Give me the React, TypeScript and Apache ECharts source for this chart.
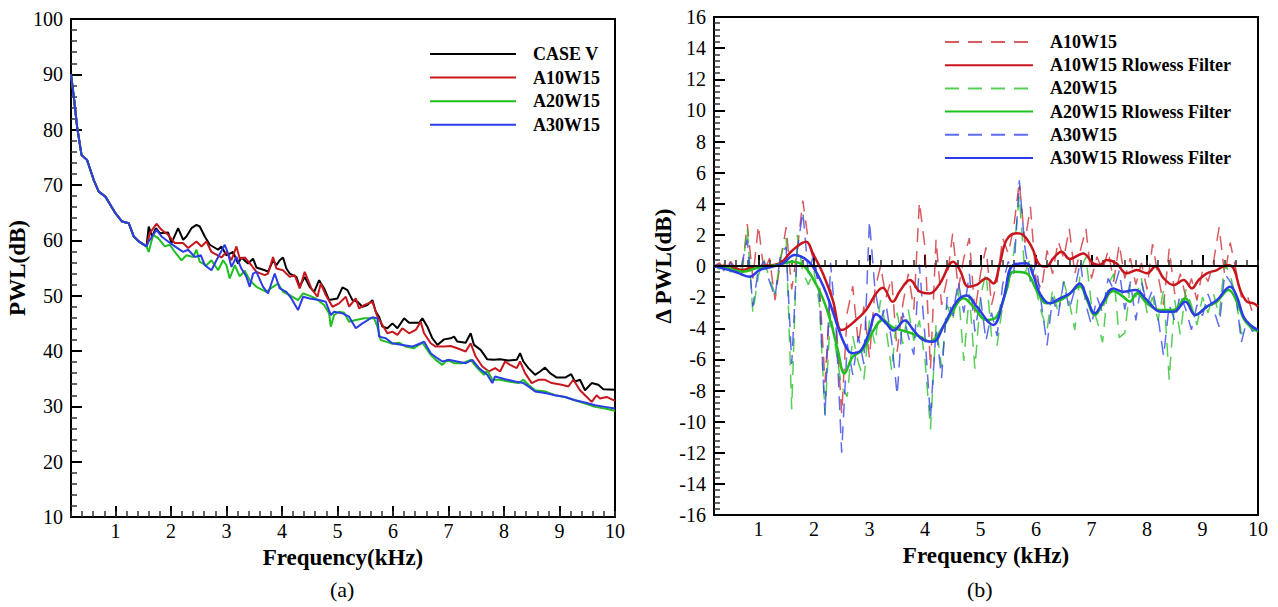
import React, { useEffect, useRef } from "react";
import * as echarts from "echarts";

// ---------- Panel (a): PWL spectra ----------
const COMMON_LOW: number[][] = [
  [0.2, 90], [0.25, 86], [0.31, 80.5], [0.39, 75.4], [0.49, 74.5], [0.61, 70.9], [0.7, 68.8],
  [0.82, 67.9], [1.0, 64.9], [1.12, 63.4], [1.24, 63.1], [1.33, 60.7], [1.42, 59.8], [1.56, 58.9],
];

const CASE_V_TAIL: number[][] = [
  [1.6, 62.5], [1.66, 60.7], [1.73, 62.2], [1.8, 61.3], [1.95, 61.4], [2.01, 59.5], [2.13, 62.2], [2.22, 60.1],
  [2.28, 60.7], [2.37, 62.2], [2.46, 62.8], [2.52, 62.5], [2.61, 60.7], [2.7, 59.2], [2.85, 58.3], [2.91, 58.9],
  [3.0, 57.3], [3.12, 57.9], [3.21, 55.8], [3.27, 56.9], [3.39, 55.8], [3.48, 56.7], [3.54, 55.1], [3.69, 54.6],
  [3.75, 54.3], [3.84, 56.4], [3.9, 55.5], [3.96, 56.4], [4.02, 56.9], [4.08, 54.9], [4.14, 54.0], [4.26, 53.4],
  [4.32, 51.6], [4.41, 53.4], [4.5, 51.6], [4.58, 50.7], [4.67, 52.8], [4.76, 51.3], [4.85, 49.2], [5.0, 49.5],
  [5.09, 51.5], [5.18, 51.0], [5.27, 49.2], [5.36, 48.9], [5.45, 48.0], [5.54, 48.3], [5.63, 49.2], [5.69, 47.1],
  [5.75, 46.2], [5.81, 44.4], [5.9, 44.1], [5.99, 45.0], [6.08, 44.1], [6.2, 45.9], [6.29, 45.1], [6.47, 45.1],
  [6.53, 45.9], [6.62, 44.4], [6.71, 42.3], [6.8, 41.1], [6.92, 42.1], [7.04, 42.3], [7.1, 42.6], [7.16, 41.7],
  [7.31, 41.5], [7.4, 43.2], [7.46, 41.1], [7.58, 40.2], [7.7, 38.5], [7.81, 38.4], [7.93, 38.5], [8.08, 38.3],
  [8.23, 38.4], [8.29, 39.6], [8.35, 38.1], [8.44, 36.9], [8.56, 35.7], [8.65, 36.3], [8.74, 37.0], [8.83, 36.0],
  [8.95, 35.2], [9.1, 35.2], [9.21, 35.8], [9.28, 34.5], [9.37, 34.8], [9.46, 32.9], [9.58, 34.2], [9.7, 33.9],
  [9.79, 33.1], [10.0, 33.0],
];

const A10W15_TAIL: number[][] = [
  [1.62, 61.3], [1.74, 63.0], [1.83, 61.9], [1.95, 61.0], [2.07, 59.5], [2.22, 59.5], [2.31, 58.6], [2.46, 59.8],
  [2.55, 58.9], [2.64, 59.8], [2.73, 57.9], [2.91, 56.9], [3.0, 57.9], [3.09, 56.4], [3.18, 58.9], [3.24, 56.7],
  [3.33, 56.9], [3.45, 55.5], [3.54, 54.3], [3.69, 53.7], [3.75, 54.0], [3.84, 57.0], [3.9, 54.9], [4.02, 54.6],
  [4.14, 53.4], [4.23, 53.7], [4.32, 51.3], [4.41, 54.3], [4.53, 51.3], [4.64, 49.8], [4.7, 52.2], [4.79, 50.1],
  [4.91, 48.0], [5.03, 48.6], [5.15, 49.8], [5.21, 48.0], [5.33, 49.5], [5.39, 47.7], [5.48, 48.3], [5.63, 48.9],
  [5.72, 46.2], [5.81, 44.7], [5.9, 43.2], [5.99, 43.5], [6.08, 42.9], [6.17, 44.1], [6.29, 43.2], [6.41, 43.8],
  [6.5, 45.3], [6.56, 43.2], [6.68, 41.4], [6.77, 40.8], [6.92, 40.8], [7.04, 40.9], [7.16, 40.5], [7.31, 39.9],
  [7.4, 41.4], [7.49, 39.0], [7.61, 37.2], [7.73, 36.3], [7.84, 36.9], [7.93, 36.3], [8.02, 38.1], [8.11, 37.5],
  [8.23, 36.9], [8.29, 38.1], [8.38, 36.0], [8.5, 34.2], [8.62, 34.8], [8.74, 34.8], [8.86, 34.2], [9.04, 33.9],
  [9.16, 33.6], [9.25, 34.8], [9.37, 32.9], [9.46, 32.0], [9.58, 30.8], [9.67, 32.0], [9.73, 31.4], [9.85, 31.7],
  [10.0, 31.0],
];

const A20W15_TAIL: number[][] = [
  [1.6, 57.9], [1.68, 61.0], [1.77, 60.4], [1.89, 58.9], [1.98, 59.2], [2.07, 57.9], [2.19, 56.4], [2.28, 57.3],
  [2.4, 57.0], [2.46, 58.3], [2.52, 56.1], [2.64, 55.5], [2.73, 56.4], [2.85, 54.6], [2.94, 56.4], [3.0, 55.5],
  [3.06, 53.1], [3.15, 55.5], [3.24, 53.5], [3.33, 54.5], [3.42, 52.8], [3.54, 51.6], [3.72, 50.7], [3.84, 51.6],
  [3.93, 52.2], [4.02, 50.7], [4.14, 50.1], [4.29, 49.2], [4.38, 50.4], [4.47, 50.1], [4.61, 49.5], [4.76, 48.3],
  [4.85, 46.8], [4.88, 44.4], [4.94, 46.5], [5.03, 47.1], [5.12, 46.9], [5.21, 45.3], [5.33, 45.6], [5.48, 45.9],
  [5.66, 45.9], [5.72, 44.4], [5.78, 42.0], [5.87, 41.7], [5.99, 41.3], [6.11, 41.5], [6.23, 40.8], [6.38, 40.5],
  [6.53, 41.5], [6.68, 39.3], [6.77, 38.4], [6.89, 37.5], [6.98, 38.4], [7.1, 37.8], [7.25, 37.8], [7.4, 38.4],
  [7.52, 36.9], [7.64, 35.7], [7.7, 36.5], [7.79, 34.8], [7.93, 34.8], [8.08, 34.5], [8.26, 34.2], [8.35, 34.8],
  [8.44, 33.9], [8.56, 32.9], [8.74, 32.7], [8.92, 32.0], [9.1, 31.7], [9.28, 31.1], [9.46, 30.5], [9.64, 29.9],
  [9.82, 29.6], [10.0, 29.2],
];

const A30W15_TAIL: number[][] = [
  [1.6, 59.8], [1.74, 61.9], [1.83, 60.7], [1.95, 59.8], [2.07, 58.9], [2.22, 57.9], [2.31, 58.3], [2.43, 57.0],
  [2.54, 57.3], [2.61, 55.5], [2.73, 54.6], [2.82, 56.4], [2.97, 59.2], [3.03, 57.6], [3.09, 55.2], [3.18, 57.0],
  [3.27, 54.9], [3.36, 53.4], [3.42, 51.6], [3.48, 54.0], [3.54, 54.3], [3.66, 51.6], [3.75, 50.4], [3.87, 54.0],
  [3.96, 51.3], [4.08, 50.7], [4.17, 49.5], [4.29, 47.4], [4.38, 49.8], [4.5, 49.5], [4.67, 49.2], [4.79, 48.9],
  [4.88, 46.5], [4.94, 47.1], [5.09, 46.8], [5.21, 46.2], [5.33, 44.1], [5.45, 45.0], [5.63, 46.1], [5.72, 45.9],
  [5.75, 42.6], [5.87, 42.3], [5.99, 41.4], [6.17, 41.1], [6.35, 40.8], [6.5, 41.4], [6.56, 41.7], [6.68, 39.6],
  [6.8, 38.7], [6.89, 38.1], [7.0, 38.4], [7.31, 37.8], [7.43, 38.4], [7.55, 36.9], [7.7, 35.7], [7.79, 34.2],
  [7.84, 35.4], [8.02, 34.9], [8.2, 34.5], [8.35, 34.2], [8.44, 33.6], [8.56, 32.7], [8.74, 32.4], [8.92, 32.0],
  [9.1, 31.7], [9.28, 31.1], [9.46, 30.7], [9.64, 30.2], [9.82, 29.9], [10.0, 29.6],
];

// ---------- Panel (b): delta PWL ----------
const FREQ_GRID: number[] = [
  0.2, 0.3, 0.4, 0.5, 0.6, 0.7, 0.8, 0.9, 1.0, 1.1, 1.2, 1.3, 1.4, 1.5, 1.6, 1.7, 1.8, 1.9, 2.0,
  2.1, 2.2, 2.3, 2.4, 2.5, 2.6, 2.7, 2.8, 2.9, 3.0, 3.1, 3.2, 3.3, 3.4, 3.5, 3.6, 3.7, 3.8, 3.9, 4.0,
  4.1, 4.2, 4.3, 4.4, 4.5, 4.6, 4.7, 4.8, 4.9, 5.0, 5.1, 5.2, 5.3, 5.4, 5.5, 5.6, 5.7, 5.8, 5.9, 6.0,
  6.1, 6.2, 6.3, 6.4, 6.5, 6.6, 6.7, 6.8, 6.9, 7.0, 7.1, 7.2, 7.3, 7.4, 7.5, 7.6, 7.7, 7.8, 7.9, 8.0,
  8.1, 8.2, 8.3, 8.4, 8.5, 8.6, 8.7, 8.8, 8.9, 9.0, 9.1, 9.2, 9.3, 9.4, 9.5, 9.6, 9.7, 9.8, 9.9, 10.0,
];

const A10W15_RAW: number[] = [
  0.0, 0.2, -0.3, 0.3, -0.2, -0.5, 2.7, -0.8, 2.6, -0.4, 0.5, -2.2, 0.4, 2.5, -1.5, 1.0, 4.2, 1.6, 0.3,
  -1.2, -7.5, -1.5, -3.5, -9.5, -3.0, -1.3, -5.0, -2.6, -5.9, -1.5, 0.0, -2.0, -0.8, -5.5, -2.5, -0.5, -2.8, 4.1, 1.2,
  -6.6, 1.7, -2.5, -0.8, 2.1, -1.5, 0.5, 1.8, -3.0, -0.5, 1.2, -2.5, -1.0, 1.8, 0.8, 2.5, 5.4, 1.5, 3.8, -0.8,
  -1.5, 1.0, -0.5, 1.6, 0.5, 2.4, -0.5, 1.0, 2.4, -0.8, 0.6, -0.3, 1.0, -1.0, 1.4, -0.8, 0.5, -1.2, 0.2, -1.5,
  1.4, -0.6, -2.5, 1.1, -1.8, -0.5, -2.0, -0.8, -2.2, -0.3, -1.0, 0.3, 2.5, -0.6, 1.5, -0.2, -2.0, -1.8, -3.0, -2.5,
];

const A20W15_RAW: number[] = [
  0.0, -0.2, 0.2, -0.4, 0.0, -0.6, 2.4, -3.0, -0.6, 0.4, -0.8, -1.8, 0.6, 1.8, -9.2, 2.0, -0.4, -1.2, -0.3,
  -2.5, -9.5, -3.0, -5.5, -7.8, -8.4, -4.5, -6.2, -7.3, -3.5, -5.0, -2.2, -4.0, -6.7, -3.0, -5.0, -2.8, -4.8, -3.5, -6.0,
  -10.5, -3.8, -6.5, -2.5, -3.5, -1.5, -6.1, -1.8, -6.6, -2.0, -0.4, -4.5, -5.1, -2.5, -0.5, 0.8, 4.5, -0.5, 0.5, -1.5,
  -3.0, -4.1, -1.5, -3.0, -1.0, -2.3, -4.1, -0.3, 0.6, -2.5, -3.5, -4.9, -1.2, -0.5, -4.6, -4.3, -1.2, -2.0, -0.8, -3.0,
  -2.0, -3.5, -1.5, -7.3, -2.2, -4.4, -1.5, -2.5, -3.8, -2.0, -3.0, -1.8, -3.2, 0.2, -0.6, -2.0, -4.4, -3.6, -4.0, -4.2,
];

const A30W15_RAW: number[] = [
  0.0, 0.1, -0.4, 0.2, -0.5, 0.1, 1.7, -2.6, -0.2, 0.3, -1.0, -2.0, 0.8, 1.2, -6.3, 1.0, 3.5, -0.5, 0.8,
  -2.0, -9.6, 0.2, -4.0, -12.0, -5.0, -7.0, -4.5, -6.3, 2.9, -1.5, -3.5, -2.5, -4.8, -8.3, -3.0, -4.5, -5.7, 0.1, -4.5,
  -9.8, -4.0, -7.2, -2.0, -3.2, -1.0, -3.0, -0.5, -4.2, -2.0, -4.8, -3.0, -4.5, -1.2, 0.3, -0.5, 5.5, 1.2, -1.0, 0.2,
  -2.5, -5.1, -2.0, -3.2, -1.0, -2.8, -1.5, 0.3, -2.5, -3.8, -2.0, -3.0, -0.8, -1.5, -0.3, -2.8, -1.0, -3.5, -1.0, -2.5,
  -1.5, -3.3, -5.8, -2.5, -3.5, -1.8, -2.8, -4.1, -2.5, -3.2, -1.8, -2.8, -3.9, -0.5, -1.0, -1.8, -4.9, -3.5, -4.2, -4.0,
];

const A10W15_FILTER: number[][] = [
  [0.2, 0.0], [0.45, 0.0], [0.72, -0.26], [0.9, -0.05], [1.08, 0.0], [1.38, 0.17], [1.62, 1.03], [1.86, 1.56],
  [1.98, 0.81], [2.16, -0.47], [2.34, -2.19], [2.49, -4.11], [2.58, -4.0], [2.76, -3.47], [2.94, -2.83],
  [3.12, -1.76], [3.24, -1.4], [3.42, -2.3], [3.55, -1.6], [3.73, -0.9], [3.91, -1.65], [4.09, -1.76],
  [4.27, -1.12], [4.51, 0.28], [4.63, -0.26], [4.78, -1.33], [4.93, -1.22], [5.11, -0.79], [5.23, -1.12],
  [5.35, 0.17], [5.47, 1.67], [5.65, 2.1], [5.77, 1.99], [5.92, 1.24], [6.07, 0.06], [6.19, -0.04], [6.31, 0.49],
  [6.46, 0.92], [6.61, 0.45], [6.85, 0.81], [7.03, 0.17], [7.15, 0.06], [7.27, 0.38], [7.45, 0.17], [7.63, -0.47],
  [7.82, -0.26], [8.0, -0.47], [8.15, -0.04], [8.3, -0.79], [8.48, -1.22], [8.66, -0.9], [8.81, -1.44],
  [8.93, -0.9], [9.08, -0.47], [9.26, -0.26], [9.44, 0.06], [9.56, -0.15], [9.68, -1.54], [9.8, -2.29],
  [9.92, -2.4], [10.0, -2.6],
];

const A20W15_FILTER: number[][] = [
  [0.2, 0.0], [0.36, -0.04], [0.72, -0.37], [0.96, -0.15], [1.38, 0.1], [1.62, 0.28], [1.8, 0.06], [1.98, -0.79],
  [2.16, -2.08], [2.31, -3.68], [2.43, -5.4], [2.55, -6.9], [2.7, -5.83], [2.88, -5.4], [3.06, -4.22],
  [3.24, -3.47], [3.42, -3.95], [3.67, -4.22], [3.91, -4.54], [4.09, -4.86], [4.33, -3.9], [4.51, -2.83],
  [4.69, -2.08], [4.87, -2.61], [5.11, -3.47], [5.29, -3.26], [5.47, -1.54], [5.59, -0.37], [5.83, -0.47],
  [6.01, -1.54], [6.19, -2.4], [6.37, -2.29], [6.55, -1.97], [6.79, -1.3], [6.91, -2.1], [7.06, -3.15],
  [7.21, -2.4], [7.39, -1.6], [7.57, -1.97], [7.69, -2.29], [7.82, -1.75], [8.0, -2.4], [8.24, -2.83],
  [8.48, -2.83], [8.69, -2.08], [8.87, -3.15], [9.08, -2.61], [9.26, -2.29], [9.47, -1.54], [9.62, -2.29],
  [9.74, -3.36], [9.86, -3.9], [10.0, -4.22],
];

const A30W15_FILTER: number[][] = [
  [0.2, 0.0], [0.36, -0.15], [0.6, -0.4], [0.84, -0.69], [1.02, -0.26], [1.26, -0.04], [1.44, 0.17], [1.65, 0.7],
  [1.83, 0.49], [1.98, -0.04], [2.16, -1.22], [2.31, -2.61], [2.46, -4.22], [2.61, -5.4], [2.7, -5.6],
  [2.85, -5.4], [3.0, -4.22], [3.12, -3.1], [3.3, -3.68], [3.43, -4.15], [3.64, -3.5], [3.79, -4.1],
  [3.97, -4.75], [4.15, -4.86], [4.33, -3.9], [4.57, -2.29], [4.75, -1.9], [4.93, -2.6], [5.23, -3.79],
  [5.41, -2.19], [5.59, 0.06], [5.83, 0.17], [5.95, -0.58], [6.07, -1.76], [6.25, -2.4], [6.43, -2.08],
  [6.61, -1.76], [6.79, -1.12], [6.91, -1.97], [7.06, -3.04], [7.21, -2.29], [7.39, -1.44], [7.57, -1.65],
  [7.79, -1.54], [8.0, -2.19], [8.24, -2.94], [8.48, -2.94], [8.69, -2.29], [8.87, -3.15], [9.08, -2.61],
  [9.26, -2.19], [9.5, -1.33], [9.62, -1.97], [9.74, -3.26], [9.86, -3.79], [10.0, -4.11],
];

const LEFT_NAMES = ["CASE V", "A10W15", "A20W15", "A30W15"];
const RIGHT_NAMES = [
  "A10W15 (raw)", "A10W15 Rlowess Filter",
  "A20W15 (raw)", "A20W15 Rlowess Filter",
  "A30W15 (raw)", "A30W15 Rlowess Filter",
];

const SERIF = "'Liberation Serif', 'Times New Roman', 'DejaVu Serif', serif";
const BLACK = "#000000";
const RED = "#c8161d";
const GREEN = "#1fbf1f";
const BLUE = "#2b3ce8";

function zip(xs: number[], ys: number[]): number[][] {
  return xs.map((x, i) => [x, ys[i]]);
}

export default function App() {
  const ref = useRef<HTMLDivElement>(null);

  useEffect(() => {
    if (!ref.current) return;
    const chart = echarts.init(ref.current, undefined, { renderer: "svg" });

    const tickLabel = { fontFamily: SERIF, fontSize: 20, color: "#000" };
    const nameStyle = { fontFamily: SERIF, fontSize: 23, fontWeight: "bold" as const, color: "#000" };
    const axisLine = { show: true, lineStyle: { color: "#000", width: 2 } };

    const mainX = (gridIndex: number, name: string) => ({
      type: "value",
      gridIndex,
      min: 0.2,
      max: 10,
      splitNumber: 10,
      name,
      nameLocation: "middle",
      nameGap: 23,
      nameTextStyle: nameStyle,
      axisLine,
      axisTick: { show: true, inside: true, length: 11, lineStyle: { color: "#000", width: 2 } },
      axisLabel: { ...tickLabel, margin: 4, showMinLabel: false },
      splitLine: { show: false },
    });
    const minorX = (gridIndex: number) => ({
      type: "value",
      gridIndex,
      min: 0.2,
      max: 10,
      interval: 0.2,
      axisLine: { show: false },
      axisTick: { show: true, inside: true, length: 6, lineStyle: { color: "#333", width: 1.5 } },
      axisLabel: { show: false },
      splitLine: { show: false },
    });
    const hiddenY = (gridIndex: number, min: number, max: number) => ({
      type: "value", gridIndex, min, max, show: false, splitLine: { show: false },
    });

    const lineSeries = (name: string, data: number[][], color: string, width: number, extra: any = {}) => ({
      type: "line",
      name,
      data,
      showSymbol: false,
      symbol: "none",
      lineStyle: { color, width },
      itemStyle: { color },
      ...extra,
    });

    const legendText = {
      fontFamily: SERIF, fontSize: 18, fontWeight: "bold", color: "#000", padding: [0, 0, 0, 12], lineHeight: 14,
    };

    chart.setOption({
      animation: false,
      backgroundColor: "#ffffff",
      grid: [
        { left: 71, top: 19, width: 544, height: 498, show: true, borderColor: "#000", borderWidth: 2, backgroundColor: "transparent" },
        { left: 714, top: 17, width: 544, height: 498, show: true, borderColor: "#000", borderWidth: 2, backgroundColor: "transparent" },
        { left: 71, top: 19, width: 544, height: 498 },
        { left: 714, top: 17, width: 544, height: 498 },
      ],
      xAxis: [mainX(0, "Frequency(kHz)"), mainX(1, "Frequency (kHz)"), minorX(2), minorX(3)],
      yAxis: [
        {
          type: "value", gridIndex: 0, min: 10, max: 100, interval: 10,
          name: "PWL(dB)", nameLocation: "middle", nameGap: 39, nameRotate: 90, nameTextStyle: nameStyle,
          axisLine,
          axisTick: { show: true, inside: true, length: 11, lineStyle: { color: "#000", width: 2 } },
          minorTick: { show: true, splitNumber: 5, length: 6, lineStyle: { color: "#333", width: 1.5 } },
          axisLabel: { ...tickLabel, margin: 8 },
          splitLine: { show: false },
        },
        {
          type: "value", gridIndex: 1, min: -16, max: 16, interval: 2,
          name: "Δ PWL(dB)", nameLocation: "middle", nameGap: 38, nameRotate: 90, nameTextStyle: nameStyle,
          axisLine,
          axisTick: { show: true, inside: true, length: 11, lineStyle: { color: "#000", width: 2 } },
          minorTick: { show: true, splitNumber: 5, length: 6, lineStyle: { color: "#333", width: 1.5 } },
          axisLabel: { ...tickLabel, margin: 8 },
          splitLine: { show: false },
        },
        hiddenY(2, 10, 100),
        hiddenY(3, -16, 16),
      ],
      legend: [
        {
          data: LEFT_NAMES,
          orient: "vertical",
          left: 424,
          top: 40,
          itemWidth: 86,
          itemHeight: 14,
          itemGap: 5.6,
          selectedMode: false,
          itemStyle: { opacity: 0 },
          textStyle: legendText,
        },
        {
          data: RIGHT_NAMES,
          orient: "vertical",
          left: 939,
          top: 28,
          itemWidth: 88,
          itemHeight: 14,
          itemGap: 5.2,
          selectedMode: false,
          itemStyle: { opacity: 0 },
          formatter: (n: string) => n.replace(" (raw)", ""),
          textStyle: legendText,
        },
      ],
      series: [
        lineSeries(LEFT_NAMES[0], [...COMMON_LOW, ...CASE_V_TAIL], BLACK, 2, { xAxisIndex: 0, yAxisIndex: 0 }),
        lineSeries(LEFT_NAMES[1], [...COMMON_LOW, ...A10W15_TAIL], RED, 2, { xAxisIndex: 0, yAxisIndex: 0 }),
        lineSeries(LEFT_NAMES[2], [...COMMON_LOW, ...A20W15_TAIL], GREEN, 2, { xAxisIndex: 0, yAxisIndex: 0 }),
        lineSeries(LEFT_NAMES[3], [...COMMON_LOW, ...A30W15_TAIL], BLUE, 2, { xAxisIndex: 0, yAxisIndex: 0 }),

        lineSeries(RIGHT_NAMES[0], zip(FREQ_GRID, A10W15_RAW), RED, 1.5, {
          xAxisIndex: 1, yAxisIndex: 1, lineStyle: { color: RED, width: 1.5, type: [14, 9], opacity: 0.7 },
        }),
        lineSeries(RIGHT_NAMES[2], zip(FREQ_GRID, A20W15_RAW), GREEN, 1.5, {
          xAxisIndex: 1, yAxisIndex: 1, lineStyle: { color: GREEN, width: 1.5, type: [14, 9], opacity: 0.75 },
        }),
        lineSeries(RIGHT_NAMES[4], zip(FREQ_GRID, A30W15_RAW), BLUE, 1.5, {
          xAxisIndex: 1, yAxisIndex: 1, lineStyle: { color: BLUE, width: 1.5, type: [14, 9], opacity: 0.75 },
        }),
        lineSeries(RIGHT_NAMES[1], A10W15_FILTER, RED, 2.5, { xAxisIndex: 1, yAxisIndex: 1, smooth: 0.4 }),
        lineSeries(RIGHT_NAMES[3], A20W15_FILTER, GREEN, 2.5, { xAxisIndex: 1, yAxisIndex: 1, smooth: 0.4 }),
        lineSeries(RIGHT_NAMES[5], A30W15_FILTER, BLUE, 2.5, {
          xAxisIndex: 1, yAxisIndex: 1, smooth: 0.4,
          markLine: {
            silent: true,
            symbol: ["none", "none"],
            label: { show: false },
            lineStyle: { color: "#000", width: 2, type: "solid" },
            data: [{ yAxis: 0 }],
          },
        }),
      ],
      graphic: [
        { type: "text", left: 330, top: 578, style: { text: "(a)", fontFamily: SERIF, fontSize: 22, fill: "#000" } },
        { type: "text", left: 967, top: 578, style: { text: "(b)", fontFamily: SERIF, fontSize: 22, fill: "#000" } },
      ],
    });

    return () => chart.dispose();
  }, []);

  return (
    <div
      ref={ref}
      style={{ position: "fixed", left: 0, top: 0, width: 1278, height: 607, background: "#fff" }}
    />
  );
}
